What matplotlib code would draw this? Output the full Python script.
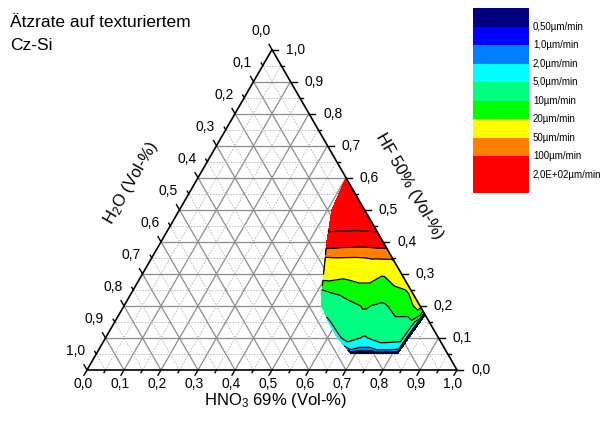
import numpy as np
import matplotlib
matplotlib.use("Agg")
import matplotlib.pyplot as plt
import matplotlib.transforms as mtransforms
from matplotlib.tri import Triangulation

plt.rcParams["font.family"] = ["Liberation Sans", "DejaVu Sans"]
plt.rcParams["mathtext.fontset"] = "custom"
plt.rcParams["mathtext.rm"] = "Liberation Sans"
plt.rcParams["mathtext.it"] = "Liberation Sans:italic"

# etch rate on textured Cz-Si, compositions as volume fractions (HF 50%, H2O); HNO3 69% is the rest
hf_frac = [0.60,
           0.55, 0.55,
           0.50, 0.50, 0.50,
           0.45, 0.45, 0.45, 0.45,
           0.40, 0.40, 0.40, 0.40,
           0.35, 0.35, 0.35, 0.35, 0.35,
           0.30, 0.30, 0.30, 0.30, 0.30,
           0.25, 0.25, 0.25, 0.25, 0.25, 0.25,
           0.20, 0.20, 0.20, 0.20, 0.20, 0.20,
           0.172,
           0.15, 0.15, 0.15, 0.15, 0.15, 0.15, 0.15,
           0.10, 0.10, 0.10, 0.10, 0.10, 0.10,
           0.05, 0.05, 0.05, 0.05, 0.05]
h2o_frac = [0.0,
            0.0, 0.04,
            0.0, 0.05, 0.088,
            0.0, 0.05, 0.10, 0.12,
            0.0, 0.05, 0.10, 0.152,
            0.0, 0.05, 0.10, 0.15, 0.181,
            0.0, 0.05, 0.10, 0.15, 0.21,
            0.0, 0.05, 0.10, 0.15, 0.20, 0.24,
            0.0, 0.05, 0.10, 0.15, 0.20, 0.265,
            0.0,
            0.025, 0.05, 0.10, 0.15, 0.20, 0.25, 0.272,
            0.082, 0.10, 0.15, 0.20, 0.25, 0.273,
            0.136, 0.15, 0.20, 0.25, 0.261]
rate_um_min = [450,
               400, 390,
               330, 320, 310,
               240, 232, 235, 240,
               132, 125, 128, 135,
               53, 52, 48, 50, 47,
               36, 21, 28, 24, 27,
               22, 15, 14, 14, 11, 10,
               24, 13, 9, 10.5, 8, 6.5,
               0.2,
               0.2, 8.5, 8.5, 8, 8, 7, 4.3,
               0.2, 6.5, 7, 4.6, 6.5, 3.8,
               0.15, 0.15, 0.15, 0.15, 0.15]

levels = [0.5, 1, 2, 5, 10, 20, 50, 100, 200]
level_labels = ["0,50µm/min", "1,0µm/min", "2,0µm/min", "5,0µm/min", "10µm/min",
                "20µm/min", "50µm/min", "100µm/min", "2,0E+02µm/min"]
fill_colors = ["#000080", "#0000ff", "#0080ff", "#00ffff", "#00ff80",
               "#00ff00", "#ffff00", "#ff8000", "#ff0000", "#ff0000"]

SQ = np.sqrt(3) / 2
S = 370.0          # pixels per ternary unit
X0, Y0 = 87, 370   # pixel position of the bottom-left corner


def tern(hno3, hf):
    return hno3 + hf / 2, hf * SQ


fig = plt.figure(figsize=(6.04, 4.21), dpi=100)
ax = fig.add_axes([0, 0, 1, 1])
ax.set_xlim(-X0 / S, (604 - X0) / S)
ax.set_ylim((Y0 - 421) / S, Y0 / S)
ax.axis("off")

# grid
for k in range(1, 20):
    v = k * 0.05
    major = k % 2 == 0
    kw = dict(color="#8c8c8c", lw=0.9, ls="-") if major else dict(color="#b8b8b8", lw=0.7, ls=(0, (1.5, 1.5)))
    for (a0, b0), (a1, b1) in [((v, 0), (v, 1 - v)), ((0, v), (1 - v, v)), ((1 - v, 0), (0, 1 - v))]:
        p0, p1 = tern(a0, b0), tern(a1, b1)
        ax.plot([p0[0], p1[0]], [p0[1], p1[1]], zorder=1, **kw)

# contour fill
hf_a = np.array(hf_frac)
h2o_a = np.array(h2o_frac)
hno3_a = 1 - hf_a - h2o_a
px, py = tern(hno3_a, hf_a)
tri = Triangulation(px, py)
z = np.array(rate_um_min)
bounds = [0] + levels + [1000]
ax.tricontourf(tri, z, levels=bounds, colors=fill_colors, zorder=2)
ax.tricontour(tri, z, levels=levels, colors="black", linewidths=0.9, zorder=3)

# triangle frame
cx, cy = tern(np.array([0, 1, 0, 0]), np.array([0, 0, 1, 0]))
ax.plot(cx, cy, color="black", lw=1.2, zorder=4, solid_joinstyle="miter")

# ticks and tick labels
for k in range(21):
    v = k * 0.05
    L = (6 if k % 2 == 0 else 3) / S
    for base, d in [(tern(v, 0), (-0.5, -SQ)), (tern(1 - v, v), (1, 0)), (tern(0, 1 - v), (-0.5, SQ))]:
        ax.plot([base[0], base[0] + d[0] * L], [base[1], base[1] + d[1] * L],
                color="black", lw=1.0, zorder=4)
    if k % 2 == 0:
        lab = f"{v:.1f}".replace(".", ",")
        bx, by = tern(v, 0)
        ax.text(bx - 4 / S, by - 14 / S, lab, ha="center", va="center", fontsize=10)
        rx, ry = tern(1 - v, v)
        ax.text(rx + 14 / S, ry, lab, ha="left", va="center", fontsize=10)
        lx, ly = tern(0, 1 - v)
        ax.text(lx - 11 / S, ly + 19 / S, lab, ha="center", va="center", fontsize=10)

# axis titles
ax.text((275 - X0) / S, (Y0 - 401) / S, "HNO$_3$ 69% (Vol-%)", ha="center", va="center", fontsize=12)
ax.text((131 - X0) / S, (Y0 - 183) / S, "H$_2$O (Vol-%)", ha="center", va="center",
        fontsize=12, rotation=60, rotation_mode="anchor")
ax.text((409 - X0) / S, (Y0 - 186) / S, "HF 50% (Vol-%)", ha="center", va="center",
        fontsize=12, rotation=-60, rotation_mode="anchor")

fig.text(10 / 604, 1 - 15 / 421, "Ätzrate auf texturiertem\nCz-Si", ha="left", va="top",
         fontsize=12.5, linespacing=1.65)

# colour scale
lax = fig.add_axes([472.7 / 604, 1 - 193.3 / 421, 56.3 / 604, 185 / 421])
heights = [1] * 8 + [2]
bottoms = np.cumsum([0] + heights[:-1])
lax.bar(np.zeros(9), heights, bottom=bottoms, width=1.0, color=fill_colors[:9], edgecolor="none")
lax.set_xlim(-0.5, 0.5)
lax.set_ylim(10, 0)
lax.axis("off")
trans = mtransforms.blended_transform_factory(lax.transAxes, lax.transData)
label_pos = list(range(1, 9)) + [9]
for yv, lab in zip(label_pos, level_labels):
    lax.text(1.07, yv, lab, transform=trans, ha="left", va="center", fontsize=7)

fig.savefig("out.png", dpi=100)
